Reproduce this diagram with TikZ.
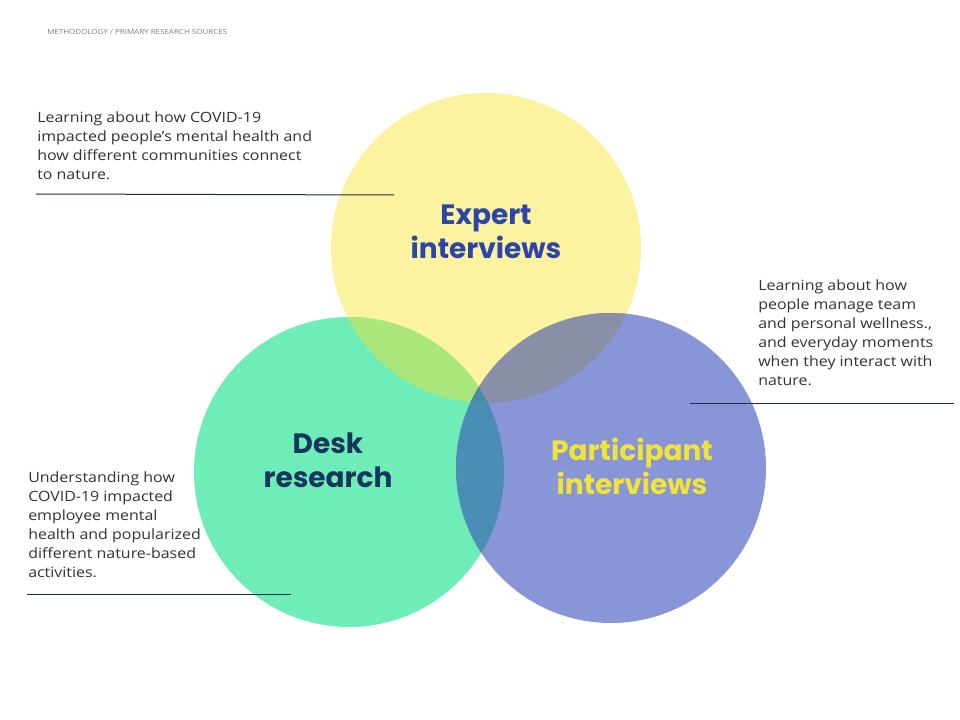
\documentclass[tikz,border=0pt]{standalone}
\usepackage{fontspec}
\setmainfont{Open Sans}[FakeStretch=1.13]
\newfontfamily\headfont{Poppins}

\definecolor{expertyellow}{HTML}{FBF3A0}
\definecolor{deskgreen}{HTML}{6EEDB8}
\definecolor{partblue}{HTML}{8896D8}
\definecolor{ygmix}{HTML}{ABE67A}
\definecolor{ybmix}{HTML}{8A8FA8}
\definecolor{gbmix}{HTML}{4A8DB5}
\definecolor{allmix}{HTML}{4A8AA2}
\definecolor{expertink}{HTML}{2B45A8}
\definecolor{deskink}{HTML}{17365C}
\definecolor{partink}{HTML}{F2E33A}
\definecolor{ruleink}{HTML}{1E2B4A}
\definecolor{bodyink}{HTML}{333333}

\tikzset{
  heading/.style={font=\headfont\bfseries\fontsize{21}{25.5}\selectfont, align=center, inner sep=0pt},
  notetext/.style={font=\fontsize{10.6}{14.25}\selectfont, text=bodyink, align=left, anchor=north west, inner sep=0pt},
  noterule/.style={draw=ruleink, line width=0.75pt}
}

\begin{document}
\begin{tikzpicture}[x=0.75pt, y=-0.75pt]
\def\rad{116.25pt}
\useasboundingbox (0,0) rectangle (960,720);
\fill[white] (0,0) rectangle (960,720);

% circle centres
\coordinate (expert) at (486,248);
\coordinate (desk) at (349,472);
\coordinate (part) at (611,468);

\fill[expertyellow] (expert) circle (\rad);
\fill[deskgreen] (desk) circle (\rad);
\fill[partblue] (part) circle (\rad);
% overlaps
\begin{scope}
  \clip (expert) circle (\rad);
  \fill[ygmix] (desk) circle (\rad);
  \fill[ybmix] (part) circle (\rad);
\end{scope}
\begin{scope}
  \clip (desk) circle (\rad);
  \fill[gbmix] (part) circle (\rad);
  \clip (part) circle (\rad);
  \fill[allmix] (expert) circle (\rad);
\end{scope}

\node[heading, text=expertink] (experttxt) at (486,232) {Expert\\interviews};
\node[heading, text=deskink] (desktxt) at (328,460) {Desk\\research};
\node[heading, text=partink] (parttxt) at (632,466) {Participant\\interviews};

\node[font=\fontsize{5.3}{6}\selectfont, text=gray, anchor=west, inner sep=0pt] (title) at (47,32)
  {METHODOLOGY / PRIMARY RESEARCH SOURCES};

\node[notetext] (expertnote) at (37,111) {Learning about how COVID-19\\impacted people's mental health and\\how different communities connect\\to nature.};
\node[notetext] (partnote) at (758,279) {Learning about how\\people manage team\\and personal wellness.,\\and everyday moments\\when they interact with\\nature.};
\node[notetext] (desknote) at (28,471) {Understanding how\\COVID-19 impacted\\employee mental\\health and popularized\\different nature-based\\activities.};

\coordinate (er1) at (36,194); \coordinate (er2) at (394,195);
\coordinate (pr1) at (690,403); \coordinate (pr2) at (954,403);
\coordinate (dr1) at (27,594); \coordinate (dr2) at (291,594);
\draw[noterule] (er1) -- (er2);
\draw[noterule] (pr1) -- (pr2);
\draw[noterule] (dr1) -- (dr2);
\end{tikzpicture}
\end{document}
